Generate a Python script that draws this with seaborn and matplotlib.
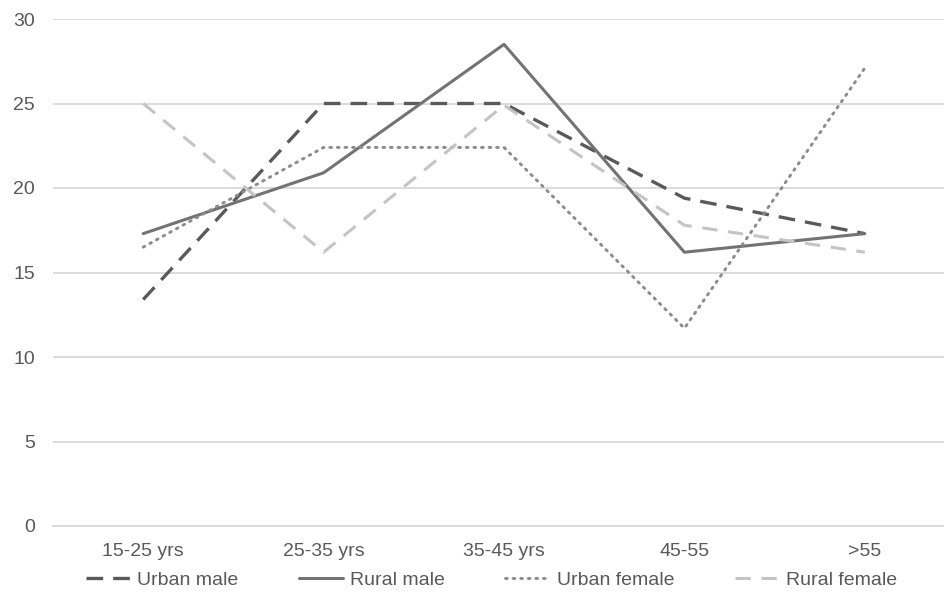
import matplotlib
matplotlib.use("Agg")
import matplotlib.pyplot as plt
import seaborn as sns
import pandas as pd

categories = ["15-25 yrs", "25-35 yrs", "35-45 yrs", "45-55", ">55"]
urban_male = [13.4, 25.0, 25.0, 19.4, 17.3]
rural_male = [17.3, 20.9, 28.5, 16.2, 17.3]
urban_female = [16.5, 22.4, 22.4, 11.7, 27.1]
rural_female = [25.0, 16.2, 24.9, 17.8, 16.2]
series_names = ["Urban male", "Rural male", "Urban female", "Rural female"]
y_ticks = [0, 5, 10, 15, 20, 25, 30]

sns.set_theme(style="white")
plt.rcParams["font.family"] = ["Liberation Sans", "DejaVu Sans"]

rows = []
for name, vals in zip(series_names, [urban_male, rural_male, urban_female, rural_female]):
    for c, v in zip(categories, vals):
        rows.append({"age": c, "value": v, "series": name})
df = pd.DataFrame(rows)

styles = {
    "Urban male": dict(color="#5a5a5a", dashes=(5, 3), lw=2.4),
    "Rural male": dict(color="#737373", dashes=None, lw=2.2),
    "Urban female": dict(color="#8c8c8c", dashes=(0.6, 2.0), lw=2.1),
    "Rural female": dict(color="#c4c4c4", dashes=(5, 3.5), lw=2.2),
}

fig = plt.figure(figsize=(9.45, 5.97), dpi=100)
ax = fig.add_axes([53 / 945, 71 / 597, 902 / 945, 507 / 597])

for name in series_names:
    st = styles[name]
    sub = df[df["series"] == name]
    sns.lineplot(data=sub, x="age", y="value", ax=ax, color=st["color"],
                 linewidth=st["lw"], label=name, sort=False)
    line = ax.lines[-1]
    if st["dashes"] is not None:
        line.set_dashes(st["dashes"])
    if name == "Urban female":
        line.set_dash_capstyle("round")

ax.set_ylim(0, 30)
ax.set_xlim(-0.5, 4.5)
ax.set_yticks(y_ticks)
ax.set_xlabel("")
ax.set_ylabel("")
ax.grid(axis="y", color="#d9d9d9", linewidth=1.3)
ax.set_axisbelow(True)
for s in ["top", "right", "left"]:
    ax.spines[s].set_visible(False)
ax.spines["bottom"].set_color("#d9d9d9")
ax.spines["bottom"].set_linewidth(1.3)
ax.tick_params(axis="y", length=0, pad=13, labelsize=14, labelcolor="#595959")
ax.tick_params(axis="x", length=0, pad=12, labelsize=14, labelcolor="#595959")

handles, labels = ax.get_legend_handles_labels()
if ax.legend_:
    ax.legend_.remove()
leg = fig.legend(handles, labels, loc="center", bbox_to_anchor=(0.52, 0.028),
                 ncol=4, frameon=False, fontsize=14, handlelength=2.3,
                 columnspacing=3.1, handletextpad=0.35)
for t in leg.get_texts():
    t.set_color("#595959")

fig.savefig("out.png", dpi=100)
